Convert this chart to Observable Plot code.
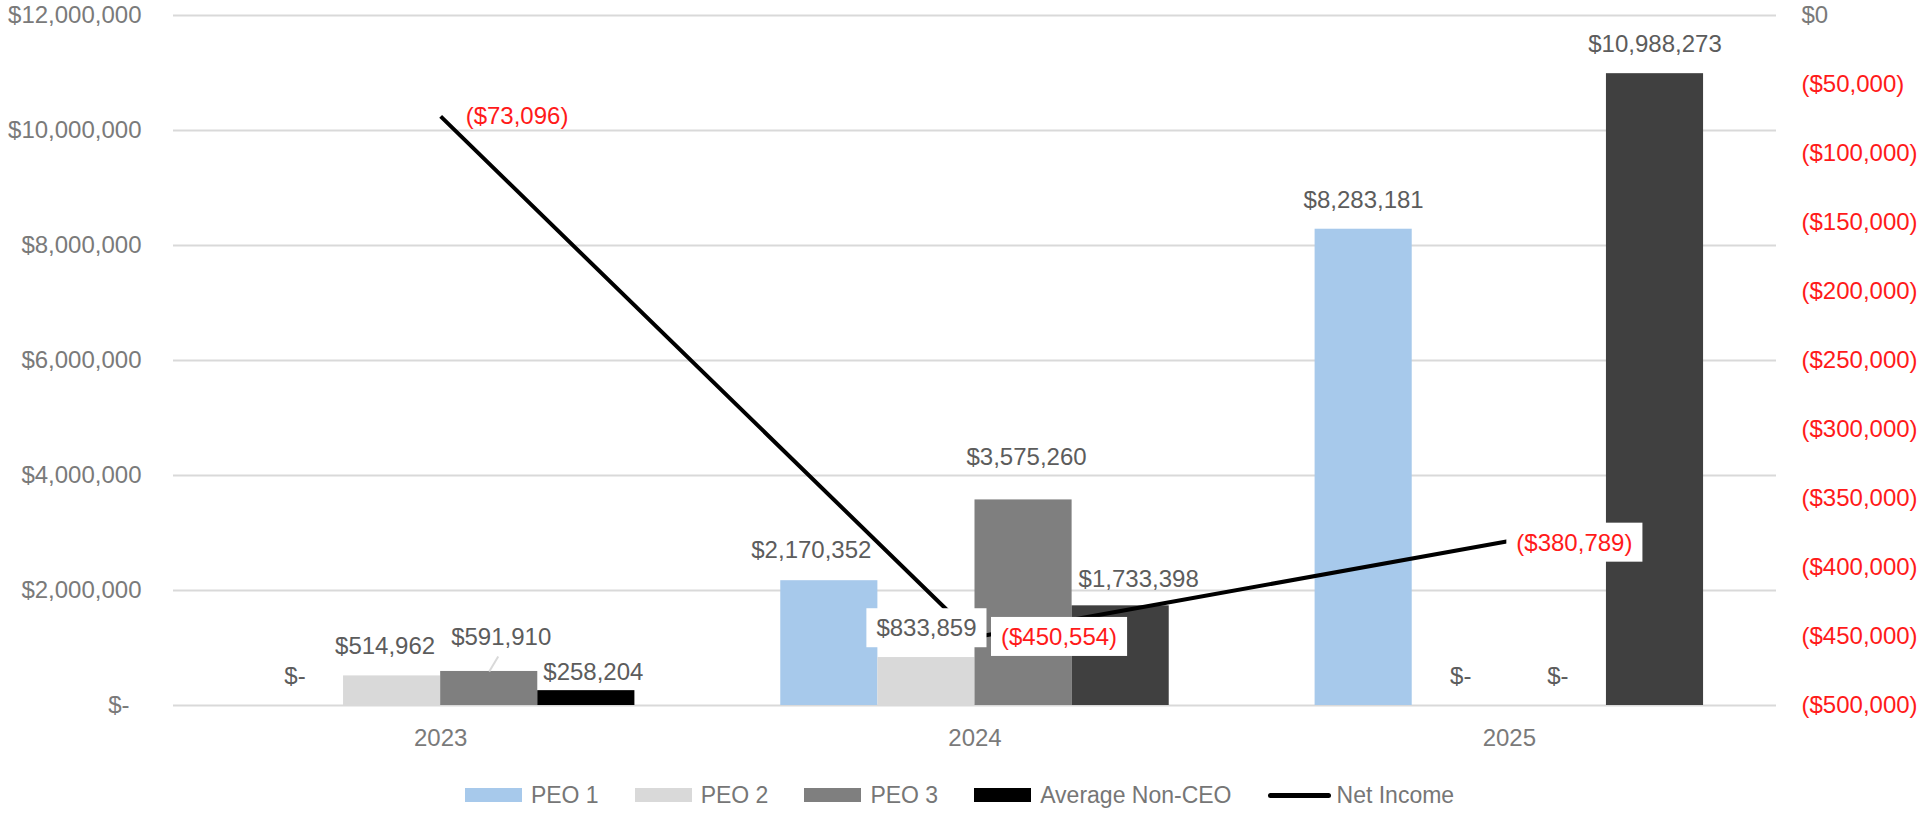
<!DOCTYPE html>
<html>
<head>
<meta charset="utf-8">
<script src="https://cdn.jsdelivr.net/npm/d3@7"></script>
<script src="https://cdn.jsdelivr.net/npm/@observablehq/plot@0.6"></script>
<style>
  html, body { margin: 0; padding: 0; background: #fff; }
  #chart { width: 1919px; }
  .legend { display: flex; justify-content: center; align-items: center; height: 40px; font-family: "Liberation Sans", Arial, sans-serif; font-size: 23px; color: #767676; }
  .legend .item { display: flex; align-items: center; margin: 0 18px; }
  .legend .sw { width: 57px; height: 14px; margin-right: 9px; }
  .legend .ln { width: 63px; height: 5px; border-radius: 3px; background: #000; margin-right: 6px; }
</style>
</head>
<body>
<div id="chart"></div>
<script>
// ---- data ----
const years = [2023, 2024, 2025];
const series = ["PEO 1", "PEO 2", "PEO 3", "Average Non-CEO"];
const peo1 = [0, 2170352, 8283181];
const peo2 = [514962, 833859, 0];
const peo3 = [591910, 3575260, 0];
const nonCeo = [258204, 1733398, 10988273];
const netIncome = [-73096, -450554, -380789];
const leftTicks = [0, 2000000, 4000000, 6000000, 8000000, 10000000, 12000000];
const rightTicks = [0, -50000, -100000, -150000, -200000, -250000, -300000, -350000, -400000, -450000, -500000];

// ---- styling / layout (not data) ----
const seriesColors = {"PEO 1": "#a7c9eb", "PEO 2": "#d9d9d9", "PEO 3": "#7f7f7f", "Average Non-CEO": "#404040"};
const FONT = "Liberation Sans, Arial, sans-serif";
const LABEL = "#5c5c5c", AXIS = "#7a7a7a", RED = "#ff1a1a";
const groupWidth = 0.727;            // fraction of a year occupied by the 4 bars
const barW = groupWidth / series.length;
const niToLeft = v => (v + 500000) * 24;  // secondary axis -> primary axis units
const fmtUsd = v => v === 0 ? "$-" : "$" + d3.format(",")(v);
const fmtNi = v => v === 0 ? "$0" : "($" + d3.format(",")(-v) + ")";

const valuesBySeries = [peo1, peo2, peo3, nonCeo];
const bars = [];
years.forEach((yr, yi) => series.forEach((s, si) => {
  bars.push({year: yr, series: s, si, value: valuesBySeries[si][yi]});
}));
const x1 = d => d.year - groupWidth / 2 + d.si * barW;
const xc = d => x1(d) + barW / 2;
const barFill = d => (d.series === "Average Non-CEO" && d.year === 2023) ? "#000000" : seriesColors[d.series];

const niRows = years.map((yr, i) => ({year: yr, value: netIncome[i]}));

// label nudges (pixels)
const nudge = {
  "2023|PEO 2": [-7, -30], "2023|PEO 3": [12, -34], "2023|Average Non-CEO": [7, -18],
  "2024|PEO 1": [-18, -30], "2024|PEO 3": [3, -43], "2024|Average Non-CEO": [18, -27]
};
const boxedKeys = ["2024|PEO 2"];
const niNudge = [[25, 0], [26, 0], [7, 2]];
const boxedTexts = new Set(netIncome.slice(1).map(fmtNi));
bars.forEach(d => { if (boxedKeys.includes(d.year + "|" + d.series)) boxedTexts.add(fmtUsd(d.value)); });

const labelMarks = bars.map(d => {
  const key = d.year + "|" + d.series;
  const [dx, dy] = nudge[key] || [0, -29];
  return Plot.text([d], {
    x: xc, y: "value", text: d => fmtUsd(d.value), dx, dy,
    fill: LABEL, fontSize: 24
  });
});
const niLabelMarks = niRows.map((d, i) => Plot.text([d], {
  x: "year", y: d => niToLeft(d.value), text: d => fmtNi(d.value),
  dx: niNudge[i][0], dy: niNudge[i][1], textAnchor: "start",
  fill: RED, fontSize: 24
}));

// leader line for the moved 2023 PEO 3 label
const pxX = 3 / 1603, pxY = 12000000 / 690;
const leader = bars.filter(d => d.year === 2023 && d.series === "PEO 3");

const chart = Plot.plot({
  width: 1919, height: 775,
  marginLeft: 173, marginRight: 143, marginTop: 15, marginBottom: 70,
  style: {fontFamily: FONT, fontSize: "24px", background: "#fff"},
  x: {type: "linear", domain: [2022.5, 2025.5]},
  y: {domain: [0, 12000000]},
  color: {type: "identity"},
  marks: [
    Plot.gridY(leftTicks, {stroke: "#d9d9d9", strokeOpacity: 1, strokeWidth: 2}),
    Plot.rect(bars, {x1, x2: d => x1(d) + barW, y1: d => 0, y2: "value", fill: barFill}),
    Plot.link(leader, {x1: xc, y1: "value", x2: d => xc(d) + 9 * pxX, y2: d => d.value + 15 * pxY, stroke: "#d9d9d9", strokeWidth: 2}),
    Plot.line(niRows, {x: "year", y: d => niToLeft(d.value), stroke: "#000", strokeWidth: 4, strokeLinecap: "butt"}),
    Plot.axisY(leftTicks, {anchor: "left", tickSize: 0, tickPadding: 32, label: null, fill: AXIS, fontSize: 24,
      tickFormat: v => v === 0 ? "$-\u2002" : fmtUsd(v)}),
    Plot.axisY([niToLeft(0)], {anchor: "right", tickSize: 0, tickPadding: 25, label: null, fill: AXIS, fontSize: 24,
      tickFormat: v => fmtNi(v / 24 - 500000)}),
    Plot.axisY(rightTicks.filter(v => v !== 0).map(niToLeft), {anchor: "right", tickSize: 0, tickPadding: 25, label: null, fill: RED, fontSize: 24,
      tickFormat: v => fmtNi(Math.round(v / 24 - 500000))}),
    Plot.axisX(years, {tickSize: 0, tickPadding: 23, label: null, fill: AXIS, fontSize: 24, tickFormat: d3.format("d")}),
    ...labelMarks,
    ...niLabelMarks
  ]
});
document.getElementById("chart").append(chart);

// white boxes behind boxed labels
chart.querySelectorAll("text").forEach(t => {
  if (!boxedTexts.has(t.textContent)) return;
  const bb = t.getBBox();
  const r = document.createElementNS("http://www.w3.org/2000/svg", "rect");
  r.setAttribute("x", bb.x - 10);
  r.setAttribute("y", bb.y - 6);
  r.setAttribute("width", bb.width + 20);
  r.setAttribute("height", bb.height + 12);
  r.setAttribute("fill", "#fff");
  if (t.getAttribute("transform")) r.setAttribute("transform", t.getAttribute("transform"));
  t.parentNode.insertBefore(r, t);
});

// legend
const legend = document.createElement("div");
legend.className = "legend";
series.forEach(s => {
  const it = document.createElement("div"); it.className = "item";
  const sw = document.createElement("div"); sw.className = "sw";
  sw.style.background = s === "Average Non-CEO" ? "#000" : seriesColors[s];
  const tx = document.createElement("span"); tx.textContent = s;
  it.append(sw, tx); legend.append(it);
});
{
  const it = document.createElement("div"); it.className = "item";
  const ln = document.createElement("div"); ln.className = "ln";
  const tx = document.createElement("span"); tx.textContent = "Net Income";
  it.append(ln, tx); legend.append(it);
}
document.getElementById("chart").append(legend);
</script>
</body>
</html>
